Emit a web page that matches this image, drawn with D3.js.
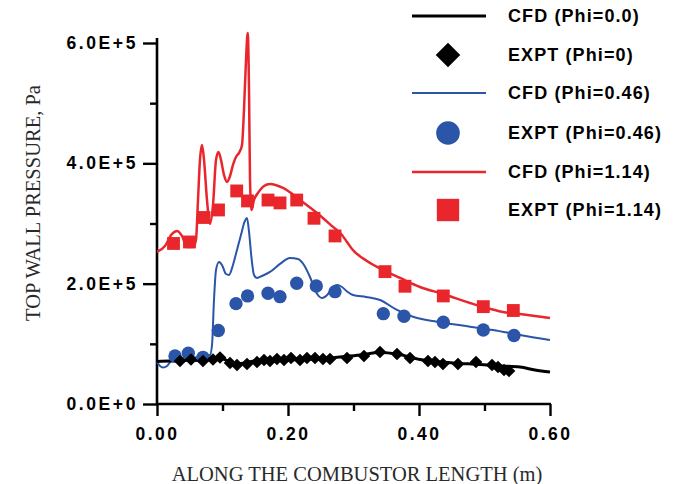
<!DOCTYPE html>
<html>
<head>
<meta charset="utf-8">
<script src="https://cdn.jsdelivr.net/npm/d3@7"></script>
<style>
  body { margin: 0; background: #fff; }
  .tick-lbl { font-family: "Liberation Sans", Arial, sans-serif; font-weight: bold; font-size: 17.5px; }
  .title { font-family: "Liberation Serif", "Times New Roman", serif; fill: #2a2a2a; }
</style>
</head>
<body>
<svg width="684" height="484"></svg>
<script>
// values: x in m, pressure in Pa
const cfdPhi0 = [
  [0, 0.707e5], [0.0198, 0.715e5], [0.0351, 0.715e5], [0.0504, 0.731e5], [0.0656, 0.723e5],
  [0.0809, 0.74e5], [0.0962, 0.765e5], [0.1084, 0.715e5], [0.1191, 0.665e5], [0.1344, 0.682e5],
  [0.1496, 0.715e5], [0.1725, 0.715e5], [0.1954, 0.731e5], [0.2183, 0.74e5], [0.2489, 0.748e5],
  [0.2794, 0.781e5], [0.3099, 0.815e5], [0.3405, 0.856e5], [0.3664, 0.831e5], [0.4015, 0.74e5],
  [0.4519, 0.682e5], [0.4931, 0.657e5], [0.5237, 0.632e5], [0.5542, 0.615e5], [0.5771, 0.565e5],
  [0.6, 0.532e5]
]
const exptPhi0 = [
  [0.0351, 0.715e5], [0.0519, 0.74e5], [0.0702, 0.715e5], [0.0855, 0.74e5], [0.0962, 0.773e5],
  [0.1115, 0.682e5], [0.1221, 0.648e5], [0.1374, 0.665e5], [0.1527, 0.698e5], [0.1634, 0.731e5],
  [0.1725, 0.715e5], [0.1832, 0.748e5], [0.1939, 0.731e5], [0.2046, 0.765e5], [0.2183, 0.731e5],
  [0.229, 0.765e5], [0.2412, 0.765e5], [0.2534, 0.748e5], [0.2641, 0.748e5], [0.2901, 0.765e5],
  [0.316, 0.798e5], [0.3405, 0.865e5], [0.3664, 0.831e5], [0.3863, 0.765e5], [0.4137, 0.715e5],
  [0.4244, 0.698e5], [0.4366, 0.665e5], [0.4595, 0.665e5], [0.487, 0.698e5], [0.5115, 0.648e5],
  [0.5206, 0.615e5], [0.5298, 0.565e5], [0.5374, 0.549e5]
]
const cfdPhi046 = [
  [0, 0.698e5], [0.0046, 0.632e5], [0.0092, 0.607e5], [0.0153, 0.632e5], [0.0229, 0.731e5],
  [0.0321, 0.765e5], [0.0504, 0.773e5], [0.0656, 0.781e5], [0.0809, 0.815e5], [0.084, 0.981e5],
  [0.087, 1.729e5], [0.0901, 2.228e5], [0.0947, 2.361e5], [0.0992, 2.311e5], [0.1053, 2.161e5],
  [0.1099, 2.145e5], [0.116, 2.311e5], [0.1221, 2.56e5], [0.1282, 2.81e5], [0.1336, 3.026e5],
  [0.1374, 3.092e5], [0.1405, 2.86e5], [0.1443, 2.427e5], [0.1481, 2.145e5], [0.1527, 2.095e5],
  [0.1603, 2.128e5], [0.1725, 2.195e5], [0.1878, 2.328e5], [0.2031, 2.427e5], [0.2153, 2.411e5],
  [0.2244, 2.311e5], [0.2336, 2.111e5], [0.2427, 1.862e5], [0.2519, 1.762e5], [0.2611, 1.829e5],
  [0.2687, 1.945e5], [0.2748, 1.978e5], [0.2824, 1.945e5], [0.2901, 1.87e5], [0.2992, 1.812e5],
  [0.3191, 1.779e5], [0.3405, 1.729e5], [0.3664, 1.563e5], [0.3908, 1.451e5], [0.4275, 1.368e5],
  [0.4779, 1.285e5], [0.513, 1.23e5], [0.5542, 1.147e5], [0.6, 1.064e5]
]
const exptPhi046 = [
  [0.0275, 0.798e5], [0.0478, 0.843e5], [0.0702, 0.776e5], [0.0936, 1.222e5], [0.1206, 1.668e5],
  [0.1382, 1.796e5], [0.1695, 1.84e5], [0.1878, 1.784e5], [0.2133, 2.007e5], [0.2432, 1.962e5],
  [0.2718, 1.867e5], [0.3455, 1.501e5], [0.3771, 1.458e5], [0.4371, 1.358e5], [0.4982, 1.23e5],
  [0.545, 1.139e5]
]
const cfdPhi114 = [
  [0, 2.527e5], [0.0122, 2.627e5], [0.0229, 2.826e5], [0.0305, 2.876e5], [0.0382, 2.793e5],
  [0.0458, 2.61e5], [0.055, 2.61e5], [0.0595, 2.727e5], [0.0626, 3.392e5], [0.0656, 4.057e5],
  [0.0687, 4.306e5], [0.0718, 4.057e5], [0.0763, 3.392e5], [0.0809, 2.993e5], [0.0855, 3.308e5],
  [0.0901, 4.057e5], [0.0939, 4.19e5], [0.0977, 4.057e5], [0.1023, 3.807e5], [0.1069, 3.691e5],
  [0.1115, 3.79e5], [0.116, 3.973e5], [0.1206, 4.106e5], [0.1252, 4.173e5], [0.1298, 4.306e5],
  [0.1328, 4.888e5], [0.1359, 5.719e5], [0.1385, 6.168e5], [0.1405, 5.22e5], [0.142, 3.724e5],
  [0.1443, 3.225e5], [0.1481, 3.392e5], [0.1542, 3.508e5], [0.1634, 3.624e5], [0.1725, 3.658e5],
  [0.1924, 3.591e5], [0.2183, 3.392e5], [0.2443, 3.175e5], [0.2687, 2.943e5], [0.2824, 2.81e5],
  [0.2901, 2.693e5], [0.2977, 2.577e5], [0.3206, 2.377e5], [0.345, 2.228e5], [0.371, 2.095e5],
  [0.4015, 1.945e5], [0.4366, 1.829e5], [0.4779, 1.679e5], [0.4977, 1.613e5], [0.5282, 1.53e5],
  [0.5542, 1.496e5], [0.6, 1.43e5]
]
const exptPhi114 = [
  [0.0252, 2.668e5], [0.0496, 2.693e5], [0.0718, 3.10e5], [0.0939, 3.225e5], [0.1217, 3.541e5],
  [0.1382, 3.375e5], [0.1695, 3.39e5], [0.1878, 3.342e5], [0.2133, 3.39e5], [0.2397, 3.087e5],
  [0.2718, 2.793e5], [0.3481, 2.2e5], [0.3786, 1.957e5], [0.4371, 1.796e5], [0.4982, 1.618e5],
  [0.544, 1.554e5]
]

const xMajor = [0, 0.2, 0.4, 0.6]
const xMinor = [0.1, 0.3, 0.5]
const yMajor = [0, 2e5, 4e5, 6e5]
const yMinor = [1e5, 3e5, 5e5]

const legendLabels = ['CFD (Phi=0.0)', 'EXPT (Phi=0)', 'CFD (Phi=0.46)', 'EXPT (Phi=0.46)', 'CFD (Phi=1.14)', 'EXPT (Phi=1.14)']

const RED = '#e8262b'
const BLUE = '#2a55a8'
const BLACK = '#000'

const svg = d3.select('svg')
const x = d3.scaleLinear().domain([0, 0.6]).range([157, 550])
const y = d3.scaleLinear().domain([0, 6e5]).range([404, 43])

const yFmt = v => v === 0 ? '0.0E+0' : (v / 1e5).toFixed(1) + 'E+5'

// axes
const yAxis = svg.append('g').attr('transform', 'translate(157,0)')
  .call(d3.axisLeft(y).tickValues(yMajor).tickSize(14).tickSizeOuter(0).tickPadding(8).tickFormat(yFmt))
yAxis.append('g').call(d3.axisLeft(y).tickValues(yMinor).tickSize(7).tickSizeOuter(0).tickFormat(''))
  .select('.domain').remove()

const xAxis = svg.append('g').attr('transform', 'translate(0,404)')
  .call(d3.axisBottom(x).tickValues(xMajor).tickSize(12).tickSizeOuter(0).tickPadding(12).tickFormat(d3.format('.2f')))
xAxis.append('g').call(d3.axisBottom(x).tickValues(xMinor).tickSize(7).tickSizeOuter(0).tickFormat(''))
  .select('.domain').remove()

svg.selectAll('.domain').remove()
svg.append('line').attr('x1', 157).attr('x2', 157).attr('y1', 38).attr('y2', 405)
  .attr('stroke', BLACK).attr('stroke-width', 2.6)
svg.append('line').attr('x1', 156).attr('x2', 551).attr('y1', 404).attr('y2', 404)
  .attr('stroke', BLACK).attr('stroke-width', 2.6)
svg.selectAll('.tick line').attr('stroke', BLACK).attr('stroke-width', 2.4)

yAxis.selectAll('text').attr('class', 'tick-lbl').attr('fill', BLACK)
  .style('letter-spacing', '2.6px').attr('dx', '3px')
xAxis.selectAll('text').attr('class', 'tick-lbl').attr('fill', BLACK)
  .style('letter-spacing', '2.5px').attr('dx', '0px')

// titles
svg.append('text').attr('class', 'title')
  .attr('x', 357).attr('y', 481).attr('text-anchor', 'middle')
  .style('font-size', '20.5px')
  .text('ALONG THE COMBUSTOR LENGTH (m)')
svg.append('text').attr('class', 'title')
  .attr('transform', 'translate(40,203) rotate(-90)').attr('text-anchor', 'middle')
  .style('font-size', '20.5px')
  .text('TOP WALL PRESSURE, Pa')

// curves
const line = d3.line().x(d => x(d[0])).y(d => y(d[1])).curve(d3.curveMonotoneX)

svg.append('path').datum(cfdPhi114).attr('d', line)
  .attr('fill', 'none').attr('stroke', RED).attr('stroke-width', 2.5)
svg.append('path').datum(cfdPhi046).attr('d', line)
  .attr('fill', 'none').attr('stroke', BLUE).attr('stroke-width', 2)
svg.append('path').datum(cfdPhi0).attr('d', line)
  .attr('fill', 'none').attr('stroke', BLACK).attr('stroke-width', 3)

// markers
const square = d3.symbol(d3.symbolSquare)
const circle = d3.symbol(d3.symbolCircle)

svg.append('g').selectAll('path').data(exptPhi114).join('path')
  .attr('d', square.size(165)())
  .attr('transform', d => `translate(${x(d[0])},${y(d[1])})`)
  .attr('fill', RED)
svg.append('g').selectAll('path').data(exptPhi046).join('path')
  .attr('d', circle.size(140)())
  .attr('transform', d => `translate(${x(d[0])},${y(d[1])})`)
  .attr('fill', BLUE)
svg.append('g').selectAll('path').data(exptPhi0).join('path')
  .attr('d', square.size(80)())
  .attr('transform', d => `translate(${x(d[0])},${y(d[1])}) rotate(45)`)
  .attr('fill', BLACK)

// legend
const rows = [16, 55, 93, 133, 172, 210]
const legend = svg.append('g')
legend.selectAll('text').data(legendLabels).join('text')
  .attr('class', 'tick-lbl')
  .attr('x', 508).attr('y', (d, i) => rows[i]).attr('dy', '0.36em')
  .style('font-size', '18px').style('letter-spacing', '1.1px')
  .text(d => d)

const lineRows = [[0, BLACK, 3], [2, BLUE, 2], [4, RED, 2.4]]
lineRows.forEach(([i, c, w]) => {
  legend.append('line').attr('x1', 412).attr('x2', 486).attr('y1', rows[i]).attr('y2', rows[i])
    .attr('stroke', c).attr('stroke-width', w)
})
legend.append('path').attr('d', square.size(300)())
  .attr('transform', `translate(448,${rows[1]}) rotate(45)`).attr('fill', BLACK)
legend.append('path').attr('d', circle.size(440)())
  .attr('transform', `translate(448,${rows[3]})`).attr('fill', BLUE)
legend.append('path').attr('d', square.size(500)())
  .attr('transform', `translate(448,${rows[5]})`).attr('fill', RED)
</script>
</body>
</html>
